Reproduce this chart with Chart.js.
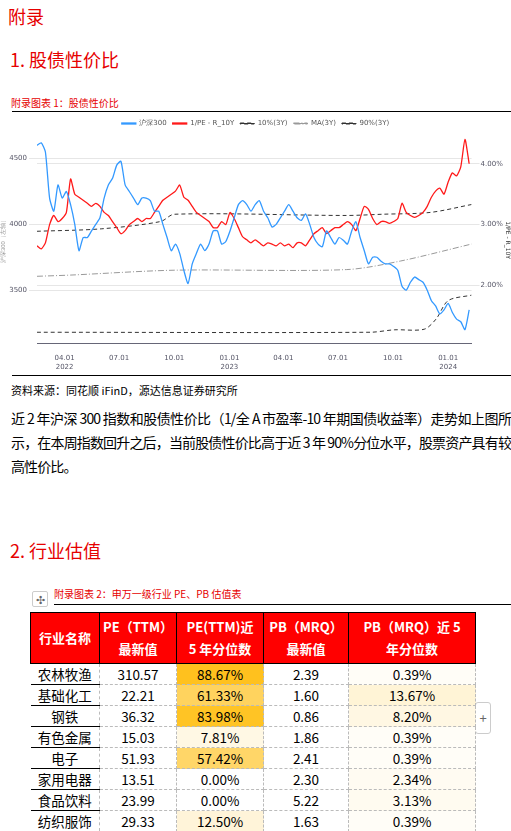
<!DOCTYPE html>
<html><head><meta charset="utf-8">
<script src="https://cdn.jsdelivr.net/npm/chart.js@4"></script>
<style>
body{margin:0;width:511px;height:831px;background:#fff;font-family:"Microsoft YaHei","Noto Sans CJK SC",sans-serif;position:relative;overflow:hidden}
.a{position:absolute;white-space:nowrap}
.red{color:#e60000}
table{border-collapse:collapse;font-family:"Noto Sans CJK SC",sans-serif}
td,th{text-align:center;padding:0;border:1px dashed #bbb;font-size:13.5px;height:20px;line-height:19px}
th{background:#ff0000;color:#fff;font-weight:bold;border:1px solid #000;font-size:13px;line-height:22px;height:50px}
td.n{border-left:none;border-bottom:1.5px solid #000}
</style></head><body>
<div class="a red" style="left:8px;top:3px;font-size:18px">附录</div>
<div class="a red" style="left:10px;top:46px;font-size:18px">1. 股债性价比</div>
<div class="a red" style="left:11px;top:95px;font-size:10px">附录图表 1：股债性价比</div>
<div class="a" style="left:12px;top:111px;width:499px;border-top:1px solid #000"></div>
<div class="a" style="left:0;top:114px;width:511px;height:260px"><canvas id="c"></canvas></div>
<div class="a" style="left:12px;top:375px;width:499px;border-top:1px solid #000"></div>
<div class="a" style="left:11px;top:382px;font-size:11px">资料来源：同花顺 iFinD，源达信息证券研究所</div>
<div class="a" style="left:11px;top:406px;width:500px;white-space:normal;font-size:14px;letter-spacing:-0.9px;line-height:24px;text-align:justify">近 2 年沪深 300 指数和股债性价比（1/全 A 市盈率-10 年期国债收益率）走势如上图所示，在本周指数回升之后，当前股债性价比高于近 3 年 90%分位水平，股票资产具有较高性价比。</div>
<div class="a red" style="left:10px;top:537px;font-size:18px">2. 行业估值</div>
<div class="a" style="left:32px;top:591px;width:14px;height:14px;border:1px solid #ccc;border-radius:2px;font-size:11px;line-height:14px;text-align:center;color:#666">✣</div>
<div class="a red" style="left:54px;top:586px;font-size:10px">附录图表 2：申万一级行业 PE、PB 估值表</div>
<div class="a" style="left:54px;top:604px;width:457px;border-top:1px solid #000"></div>
<div class="a" style="left:475px;top:702px;width:14px;height:30px;border:1px solid #ccc;border-radius:3px;font-size:13px;line-height:30px;text-align:center;color:#666">+</div>
<div class="a" style="left:30px;top:612px"><table id="t"></table></div>
<script>
const hs300 = [4600,4620,4550,4200,4100,4300,4200,4250,4150,4000,3800,3900,3900,3950,4000,4050,4200,4300,4350,4450,4480,4300,4250,4200,4150,4200,4200,4180,4100,4100,4000,3900,3800,3850,3780,3650,3550,3700,3780,3850,3800,3850,3950,3950,3850,3870,
3950,4050,4150,4180,4150,4100,4150,4180,4100,4050,3980,4000,4050,4100,4150,4100,4050,4030,4080,4000,3900,3850,3830,3950,3900,3850,3900,3880,3850,3950,4020,3900,3800,3700,3750,3750,3720,3700,3700,3680,3650,3530,3500,3560,3600,3580,3560,3500,3420,3380,3320,3350,
3400,3330,3280,3260,3200,3350];
const erp = [2.65,2.6,2.7,3.0,3.15,3.05,3.1,3.2,3.75,3.5,3.45,3.4,3.35,3.3,3.35,3.3,3.2,3.15,3.05,2.95,2.85,2.9,3.0,3.05,3.1,3.05,3.1,3.1,3.2,3.3,3.4,3.45,3.5,3.55,3.65,3.45,3.4,3.3,3.2,3.15,3.1,3.05,2.95,2.95,3.05,3.0,
3.2,3.1,2.95,2.8,2.75,2.7,2.75,2.7,2.65,2.7,2.68,2.65,2.7,2.65,2.68,2.62,2.7,2.7,2.65,2.75,2.85,2.9,2.95,2.85,2.9,2.95,2.95,3.0,3.05,3.0,2.9,3.1,3.3,3.25,3.1,3.0,3.05,3.05,3.02,3.05,3.1,3.35,3.2,3.15,3.12,3.15,3.2,3.3,3.45,3.55,3.6,3.5,
3.7,3.85,3.8,3.95,4.4,4.0];
const startDay = 44; // 2022-02-14, days since 2022-01-01
const p90 = [[44,2.89],[151,2.93],[250,3.05],[273,3.17],[560,3.15],[620,3.17],[700,3.2],[769,3.33]];
const ma3 = [[44,2.15],[100,2.17],[273,2.25],[560,2.26],[650,2.4],[769,2.68]];
const p10 = [[44,1.23],[600,1.23],[640,1.27],[690,1.28],[710,1.45],[730,1.75],[769,1.84]];
const tickDays = [90,181,273,365,455,546,638,730];
const tickLabels = [["04.01","2022"],"07.01","10.01",["01.01","2023"],"04.01","07.01","10.01",["01.01","2024"]];

const industries = ["农林牧渔","基础化工","钢铁","有色金属","电子","家用电器","食品饮料","纺织服饰"];
const peTTM = ["310.57","22.21","36.32","15.03","51.93","13.51","23.99","29.33"];
const pePct = ["88.67%","61.33%","83.98%","7.81%","57.42%","0.00%","0.00%","12.50%"];
const pbMRQ = ["2.39","1.60","0.86","1.86","2.41","2.30","5.22","1.63"];
const pbPct = ["0.39%","13.67%","8.20%","0.39%","0.39%","2.34%","3.13%","0.39%"];
const headers = ["行业名称","PE（TTM）<br>最新值","PE(TTM)近<br>5 年分位数","PB（MRQ）<br>最新值","PB（MRQ）近 5<br>年分位数"];
const colW=[68,76,86,84,126];
function heat(s){const v=parseFloat(s)/100;if(v<=0)return'#fff';
 const r=255,g=Math.round(253-(253-191)*v*1.1),b=Math.round(248-(248-30)*Math.min(1,v*1.15));return `rgb(${r},${Math.max(185,g)},${Math.max(25,b)})`;}
let h='<tr>'+headers.map((x,i)=>`<th style="width:${colW[i]}px">${x}</th>`).join('')+'</tr>';
industries.forEach((n,i)=>{h+=`<tr><td class="n">${n}</td><td>${peTTM[i]}</td><td style="background:${heat(pePct[i])}">${pePct[i]}</td><td>${pbMRQ[i]}</td><td style="background:${heat(pbPct[i])}">${pbPct[i]}</td></tr>`;});
document.getElementById('t').innerHTML=h;

const blue = hs300.map((v,i)=>({x:startDay+7*i,y:v}));
const red = erp.map((v,i)=>({x:startDay+7*i,y:v}));
const pts = a=>a.map(p=>({x:p[0],y:p[1]}));
const F="'DejaVu Sans',sans-serif";
new Chart(document.getElementById('c'),{type:'line',
 data:{datasets:[
  {label:'沪深300',data:blue,yAxisID:'y',borderColor:'#3399ff',backgroundColor:'#3399ff',borderWidth:1.3,pointRadius:0,tension:0.2},
  {label:'1/PE - R_10Y',data:red,yAxisID:'y1',borderColor:'#ff1a1a',backgroundColor:'#ff1a1a',borderWidth:1.3,pointRadius:0,tension:0.2},
  {label:'10%(3Y)',data:pts(p10),yAxisID:'y1',borderColor:'#333',backgroundColor:'#333',borderWidth:1,borderDash:[4,3],pointRadius:0,tension:0.3},
  {label:'MA(3Y)',data:pts(ma3),yAxisID:'y1',borderColor:'#999',backgroundColor:'#999',borderWidth:1,borderDash:[6,2,1,2],pointRadius:0,tension:0.3},
  {label:'90%(3Y)',data:pts(p90),yAxisID:'y1',borderColor:'#333',backgroundColor:'#333',borderWidth:1,borderDash:[4,3],pointRadius:0,tension:0.3}
 ]},
 options:{responsive:true,maintainAspectRatio:false,animation:false,
  layout:{padding:{left:0,right:0,top:0}},
  plugins:{legend:{labels:{boxWidth:14,boxHeight:1,font:{size:7,family:F},color:'#555',padding:6}},tooltip:{enabled:false}},
  scales:{
   x:{type:'linear',min:44,max:769,grid:{display:false},border:{color:'#667'},
      afterBuildTicks:a=>{a.ticks=tickDays.map(v=>({value:v}));},
      ticks:{font:{size:7,family:F},color:'#556',maxRotation:0,autoSkip:false,callback:(v)=>tickLabels[tickDays.indexOf(v)]}},
   y:{position:'left',min:3097,max:4664,border:{display:false},grid:{color:'#e6e6e6'},
      afterBuildTicks:a=>{a.ticks=[3500,4000,4500].map(v=>({value:v}));},
      ticks:{font:{size:7,family:F},color:'#556',padding:2,callback:v=>String(v)},
      title:{display:true,text:'沪深300（左轴）',font:{size:6},color:'#999',padding:0}},
   y1:{position:'right',min:1.05,max:4.44,border:{display:false},grid:{color:'#e6e6e6'},
      afterBuildTicks:a=>{a.ticks=[2,3,4].map(v=>({value:v}));},
      ticks:{font:{size:7,family:F},color:'#556',padding:1,callback:v=>v.toFixed(2)+'%'},
      title:{display:true,text:'1/PE - R_10Y',font:{size:6,family:F},color:'#333',padding:0}}
  }}});
</script>
</body></html>
